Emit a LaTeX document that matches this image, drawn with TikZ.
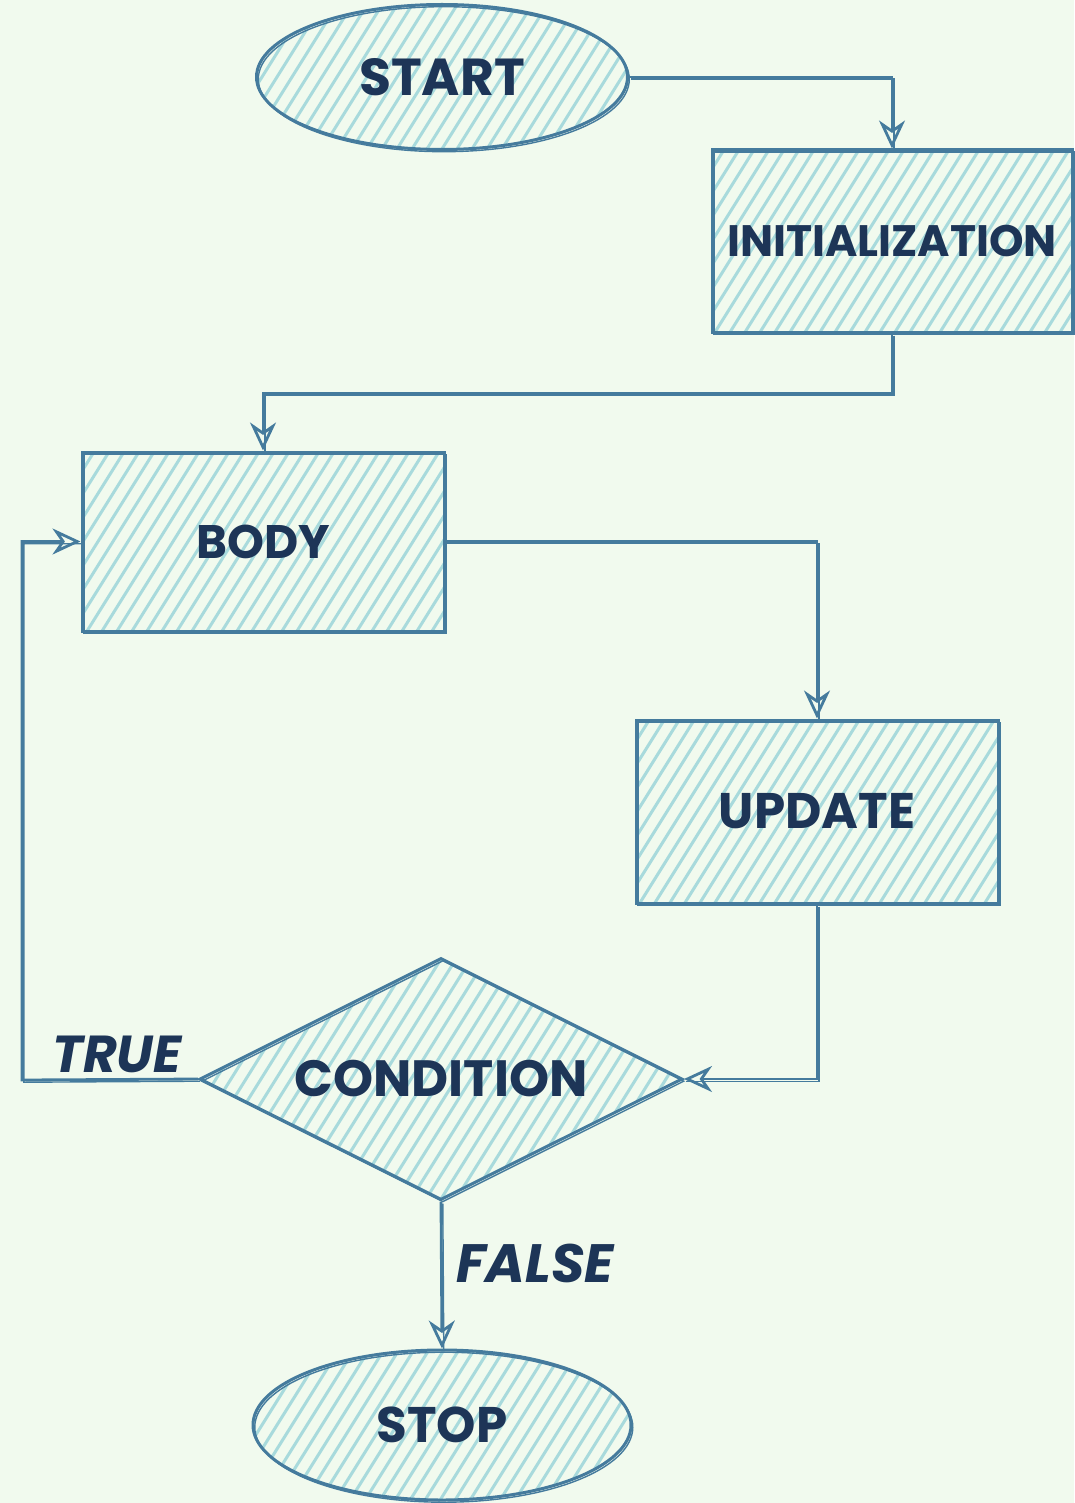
\documentclass[tikz,border=0pt]{standalone}
\usepackage{fontspec}
\setmainfont{Poppins}
\usetikzlibrary{shapes.geometric,arrows.meta}
\definecolor{bgc}{HTML}{F1FAEE}
\definecolor{hatchc}{HTML}{A8DADC}
\definecolor{strokec}{HTML}{457B9D}
\definecolor{textc}{HTML}{1D3557}
\tikzset{
  sketchline/.style={postaction={draw=strokec, line width=1.4pt, arrows=-,
     transform canvas={shift={(1.8pt,-2.2pt)}}}},
  hatched/.style={path picture={
     \foreach \k in {-30,...,30} {
       \draw[hatchc, line width=3pt]
         ([xshift=\k*15pt]path picture bounding box.center) +(-170pt,-272pt) -- +(170pt,272pt);
     }}},
  shapebase/.style={draw=strokec, line width=3pt, fill=bgc, hatched,
     sketchline, inner sep=0pt, text=textc},
  boxnode/.style={shapebase, rectangle},
  ovalnode/.style={shapebase, ellipse},
  decnode/.style={shapebase, diamond},
  conn/.style={draw=strokec, line width=2.8pt, sketchline,
     -{Stealth[open, length=28pt, width=26pt, inset=9pt, line width=2.8pt]}},
  lbl/.style={text=textc, inner sep=0pt}
}
\newcommand{\fs}[1]{\bfseries\fontsize{#1}{#1}\selectfont}
\begin{document}
\begin{tikzpicture}[x=1pt,y=-1pt]
\useasboundingbox (0,0) rectangle (1074,1503);
\fill[bgc] (0,0) rectangle (1074,1503);

\node[ovalnode, minimum width=371pt, minimum height=145pt, font=\fs{52}] (start) at (442,77) {START};
\node[boxnode, minimum width=360pt, minimum height=182pt, font=\fs{44}] (init) at (892,241) {INITIALIZATION};
\node[boxnode, minimum width=362pt, minimum height=179pt, font=\fs{47}] (body) at (263,541.5) {BODY};
\node[boxnode, minimum width=362pt, minimum height=183pt, font=\fs{50}] (update) at (817,811.5) {UPDATE};
\node[decnode, minimum width=483pt, minimum height=242pt, aspect=2, font=\fs{51}] (cond) at (441,1079) {CONDITION};
\node[ovalnode, minimum width=378pt, minimum height=150pt, font=\fs{50}] (stop) at (442,1425) {STOP};

\coordinate (loopturn) at (22,1080);

\draw[conn] (start.east) -| (init.north);
\draw[conn] (init.south) -- ++(0,60) -| (body.north);
\draw[conn] (body.east) -| (update.north);
\draw[conn] (update.south) |- (cond.east);
\draw[conn] (cond.west) -- (loopturn) |- (body.west);
\draw[conn] (cond.south) -- (stop.north);

\node[lbl, font=\fs{52}\itshape] (truelbl) at (117,1054) {TRUE};
\node[lbl, font=\fs{54}\itshape] (falselbl) at (535,1263) {FALSE};
\end{tikzpicture}
\end{document}
